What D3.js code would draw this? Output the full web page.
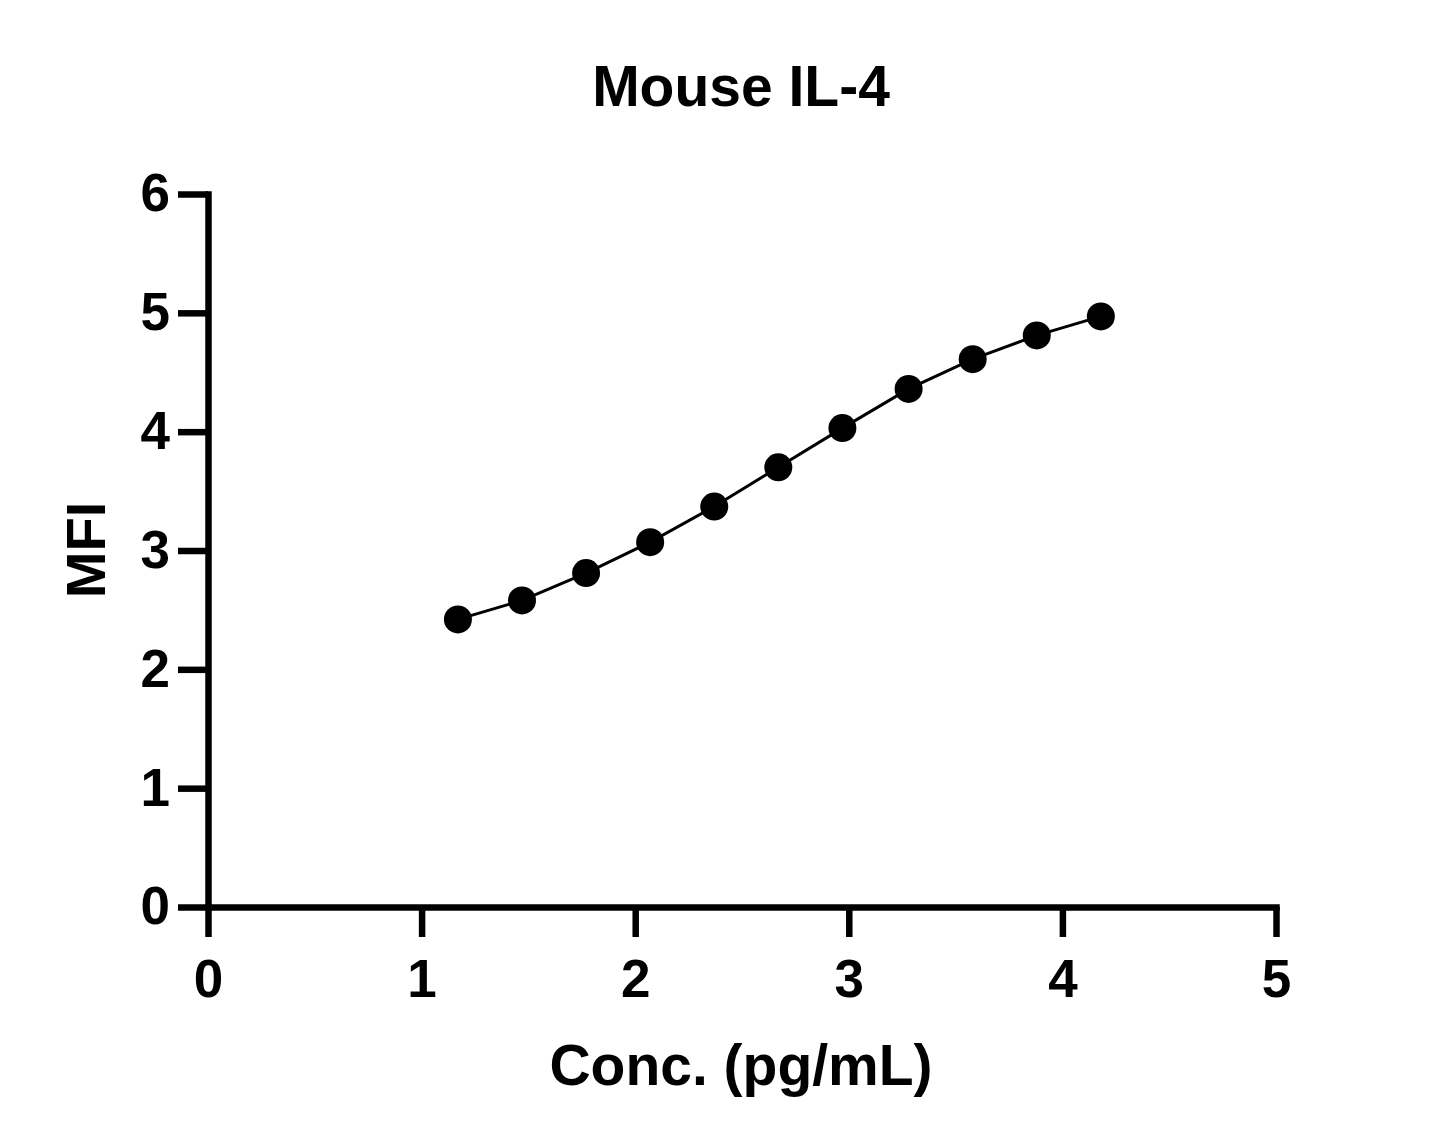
<!DOCTYPE html>
<html>
<head>
<meta charset="utf-8">
<script src="https://cdn.jsdelivr.net/npm/d3@7"></script>
<style>
    body { margin: 0; background: #fff; }
    text { font-family: "Liberation Sans", Arial, sans-serif; font-weight: bold; fill: #000; }
</style>
</head>
<body>
<svg id="chart" width="1445" height="1147"></svg>
<script>
// log10 concentration vs MFI
let concLog = [1.17, 1.47, 1.77, 2.07, 2.37, 2.67, 2.97, 3.28, 3.58, 3.88, 4.18];
let mfi = [2.42, 2.58, 2.81, 3.07, 3.37, 3.70, 4.03, 4.36, 4.61, 4.81, 4.97];
let xTicks = [0, 1, 2, 3, 4, 5];
let yTicks = [0, 1, 2, 3, 4, 5, 6];

function draw() {
    let svg = d3.select("#chart");

    let x = d3.scaleLinear().domain([0, 5]).range([208, 1276]);
    let y = d3.scaleLinear().domain([0, 6]).range([907, 194]);

    // x axis
    let gx = svg.append("g")
        .attr("transform", "translate(0," + y(0) + ")")
        .call(d3.axisBottom(x).tickValues(xTicks).tickFormat(d3.format("d"))
            .tickSize(30).tickSizeOuter(0).tickPadding(22));

    // y axis
    let gy = svg.append("g")
        .attr("transform", "translate(" + x(0) + ",0)")
        .call(d3.axisLeft(y).tickValues(yTicks).tickFormat(d3.format("d"))
            .tickSize(30).tickSizeOuter(0).tickPadding(8));

    [gx, gy].forEach(function (g) {
        g.select(".domain").attr("stroke", "#000").attr("stroke-width", 6.5)
            .attr("stroke-linecap", "square");
        g.selectAll(".tick line").attr("stroke", "#000").attr("stroke-width", 6.5);
        g.selectAll(".tick text")
            .attr("fill", "#000")
            .style("font-size", "53px")
            .style("font-family", "'Liberation Sans', Arial, sans-serif")
            .style("font-weight", "bold");
    });

    let pts = concLog.map(function (c, i) { return [c, mfi[i]]; });

    let line = d3.line()
        .x(function (d) { return x(d[0]); })
        .y(function (d) { return y(d[1]); });

    svg.append("path")
        .datum(pts)
        .attr("d", line)
        .attr("fill", "none")
        .attr("stroke", "#000")
        .attr("stroke-width", 3);

    svg.append("g").selectAll("circle")
        .data(pts)
        .join("circle")
        .attr("cx", function (d) { return x(d[0]); })
        .attr("cy", function (d) { return y(d[1]); })
        .attr("r", 14)
        .attr("fill", "#000");

    // titles
    svg.append("text")
        .attr("x", 741).attr("y", 106)
        .attr("text-anchor", "middle")
        .style("font-size", "57px")
        .text("Mouse IL-4");

    svg.append("text")
        .attr("x", 741).attr("y", 1085)
        .attr("text-anchor", "middle")
        .style("font-size", "57px")
        .text("Conc. (pg/mL)");

    svg.append("text")
        .attr("transform", "translate(105,550) rotate(-90)")
        .attr("text-anchor", "middle")
        .style("font-size", "56px")
        .text("MFI");
}

draw();
</script>
</body>
</html>
